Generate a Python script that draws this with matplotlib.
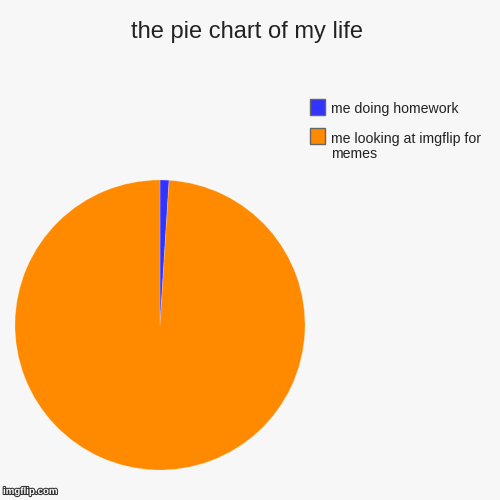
import matplotlib
matplotlib.use("Agg")
import matplotlib.pyplot as plt
import matplotlib.patheffects as pe
from matplotlib.patches import Rectangle

labels = ["me doing homework", "me looking at imgflip for\nmemes"]
values = [1, 99]
colors = ["#3333ff", "#ff8a00"]
title = "the pie chart of my life"

plt.rcParams['font.family'] = ['Liberation Sans', 'DejaVu Sans']
bg = "#f7f7f7"
fig = plt.figure(figsize=(5, 5), dpi=100, facecolor=bg)
ax = fig.add_axes([0.03, 0.06, 0.58, 0.58])
ax.set_facecolor(bg)
ax.pie(values, colors=colors, startangle=90, counterclock=False,
       wedgeprops=dict(linewidth=0.6, edgecolor="#ffffff40"))
ax.set_xlim(-1.0, 1.0)
ax.set_ylim(-1.0, 1.0)
ax.set_aspect('equal')

fig.text(0.494, 0.924, title, ha='center', va='baseline', fontsize=17, color='#222222')

# legend entries (box aligned with first text line, like the original)
box_tops = [0.802, 0.744]
for lab, c, top in zip(labels, colors, box_tops):
    fig.add_artist(Rectangle((0.619, top - 0.031), 0.031, 0.031, transform=fig.transFigure,
                             facecolor=c, edgecolor='#666666', linewidth=1.0))
    for j, line in enumerate(lab.split("\n")):
        fig.text(0.662, top - 0.029 - j * 0.031, line, ha='left', va='baseline',
                 fontsize=10.2, color='#222222')

fig.text(0.006, 0.012, "imgflip.com", fontsize=7, color='white', fontweight='bold',
         path_effects=[pe.withStroke(linewidth=1.5, foreground='#333333')])

fig.savefig("out.png", dpi=100, facecolor=bg)
